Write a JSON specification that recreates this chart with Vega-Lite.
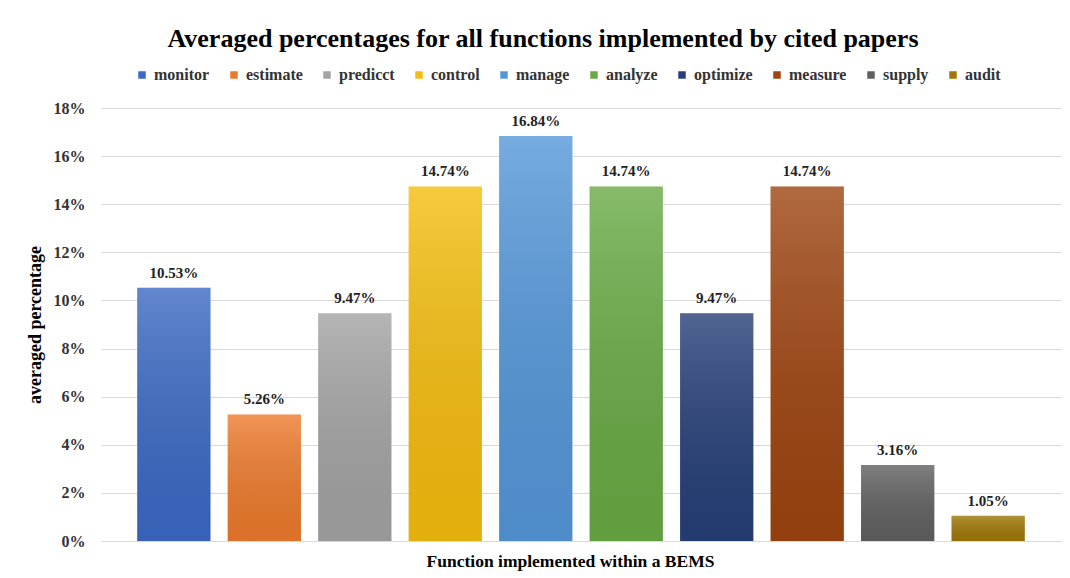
{
  "$schema": "https://vega.github.io/schema/vega-lite/v6.json",
  "width": 960,
  "height": 433,
  "autosize": {"type": "none"},
  "padding": {"left": 101, "top": 108, "right": 9, "bottom": 37},
  "background": "white",
  "config": {"font": "Liberation Serif", "view": {"stroke": null}},
  "title": {
    "text": "Averaged percentages for all functions implemented by cited papers",
    "anchor": "middle",
    "dx": -38,
    "offset": 15,
    "font": "Liberation Serif",
    "fontSize": 26,
    "fontWeight": "bold",
    "color": "#000000"
  },
  "data": {
    "values": [
      {"function": "monitor", "pct": 0.1053},
      {"function": "estimate", "pct": 0.0526},
      {"function": "predicct", "pct": 0.0947},
      {"function": "control", "pct": 0.1474},
      {"function": "manage", "pct": 0.1684},
      {"function": "analyze", "pct": 0.1474},
      {"function": "optimize", "pct": 0.0947},
      {"function": "measure", "pct": 0.1474},
      {"function": "supply", "pct": 0.0316},
      {"function": "audit", "pct": 0.0105}
    ]
  },
  "encoding": {
    "x": {
      "field": "function",
      "type": "nominal",
      "sort": null,
      "scale": {"paddingInner": 0.19, "paddingOuter": 0.4},
      "axis": {
        "title": "Function implemented within a BEMS",
        "titleFont": "Liberation Serif",
        "titleFontSize": 17.5,
        "titleFontWeight": "bold",
        "titleColor": "#000000",
        "titlePadding": 11,
        "titleX": 469,
        "labels": false,
        "ticks": false,
        "domainColor": "#d9d9d9",
        "domainWidth": 1
      }
    },
    "y": {
      "field": "pct",
      "type": "quantitative",
      "scale": {"domain": [0, 0.18], "nice": false},
      "axis": {
        "title": "averaged percentage",
        "titleFont": "Liberation Serif",
        "titleFontSize": 18,
        "titleFontWeight": "bold",
        "titleColor": "#000000",
        "titlePadding": 9,
        "values": [0, 0.02, 0.04, 0.06, 0.08, 0.1, 0.12, 0.14, 0.16, 0.18],
        "format": ".0%",
        "labelFont": "Liberation Serif",
        "labelFontSize": 16,
        "labelFontWeight": "bold",
        "labelColor": "#333333",
        "labelPadding": 16,
        "ticks": false,
        "domain": false,
        "gridColor": "#d9d9d9",
        "gridWidth": 1
      }
    }
  },
  "layer": [
    {
      "mark": {"type": "bar"},
      "encoding": {
        "color": {
          "field": "function",
          "type": "nominal",
          "scale": {
            "domain": ["monitor", "estimate", "predicct", "control", "manage", "analyze", "optimize", "measure", "supply", "audit"],
            "range": ["#3b69c4", "#ed7a2c", "#a3a3a3", "#f5bd0e", "#5497d9", "#69aa44", "#263f78", "#9e4410", "#606060", "#a07808"]
          },
          "legend": {
            "orient": "none",
            "legendX": 33,
            "legendY": -41,
            "direction": "horizontal",
            "columns": 10,
            "title": null,
            "symbolType": "square",
            "symbolSize": 56,
            "symbolStrokeWidth": 0,
            "labelFont": "Liberation Serif",
            "labelFontSize": 16,
            "labelFontWeight": "bold",
            "labelColor": "#333333",
            "labelOffset": 4,
            "columnPadding": 16,
            "padding": 0
          }
        }
      }
    },
    {
      "mark": {
        "type": "bar",
        "color": {
          "gradient": "linear",
          "x1": 0, "y1": 0, "x2": 0, "y2": 1,
          "stops": [
            {"offset": 0, "color": "rgba(255,255,255,0.2)"},
            {"offset": 1, "color": "rgba(0,0,0,0.07)"}
          ]
        }
      },
      "encoding": {}
    },
    {
      "mark": {
        "type": "text",
        "baseline": "alphabetic",
        "dy": -10,
        "font": "Liberation Serif",
        "fontSize": 15,
        "fontWeight": "bold",
        "color": "#222222"
      },
      "encoding": {
        "text": {"field": "pct", "type": "quantitative", "format": ".2%"}
      }
    }
  ]
}
